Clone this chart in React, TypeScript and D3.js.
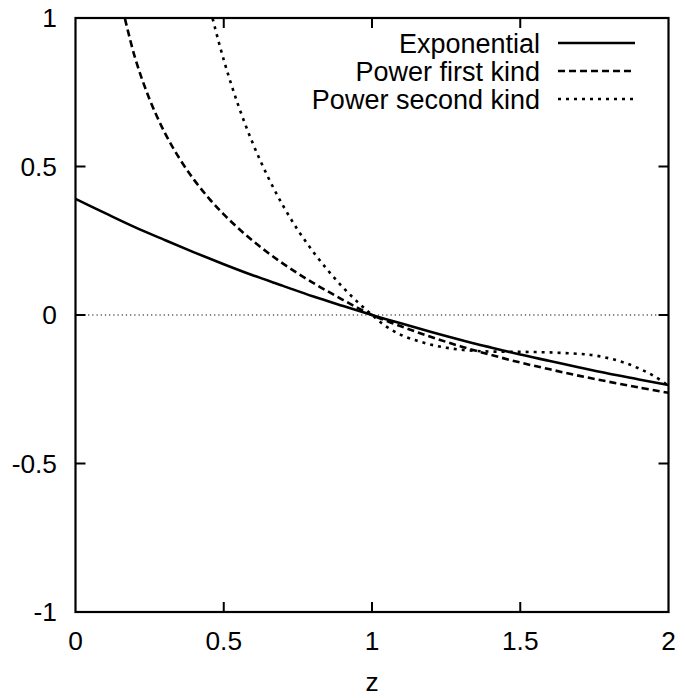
import React from 'react';
import * as d3 from 'd3';

// values
const expZ = [0, 0.1, 0.2, 0.3, 0.4, 0.5, 0.6, 0.7, 0.8, 0.9, 1.0, 1.1, 1.2, 1.3, 1.4, 1.5, 1.6, 1.7, 1.8, 1.9, 2.0];
const expValues = [0.391, 0.343, 0.296, 0.253, 0.211, 0.171, 0.133, 0.098, 0.063, 0.031, 0, -0.029, -0.057, -0.084, -0.109, -0.133, -0.155, -0.177, -0.198, -0.217, -0.236];

const powerFirstZ = [0.15, 0.2, 0.25, 0.3, 0.35, 0.4, 0.45, 0.5, 0.55, 0.6, 0.65, 0.7, 0.75, 0.8, 0.85, 0.9, 0.95, 1.0, 1.1, 1.2, 1.3, 1.4, 1.5, 1.6, 1.7, 1.8, 1.9, 2.0];
const powerFirstValues = [1.069, 0.869, 0.726, 0.616, 0.528, 0.455, 0.393, 0.339, 0.291, 0.248, 0.209, 0.173, 0.14, 0.109, 0.08, 0.052, 0.025, 0, -0.039, -0.074, -0.106, -0.134, -0.16, -0.183, -0.205, -0.225, -0.244, -0.262];

const powerSecondZ = [0.45, 0.46, 0.5, 0.55, 0.6, 0.65, 0.7, 0.75, 0.8, 0.85, 0.9, 0.95, 1.0, 1.05, 1.1, 1.15, 1.2, 1.25, 1.3, 1.35, 1.4, 1.5, 1.6, 1.7, 1.75, 1.8, 1.85, 1.9, 1.95, 2.0];
const powerSecondValues = [1.05, 1.008, 0.859, 0.703, 0.573, 0.463, 0.368, 0.286, 0.215, 0.152, 0.095, 0.045, 0, -0.04, -0.068, -0.086, -0.1, -0.11, -0.117, -0.121, -0.123, -0.124, -0.126, -0.131, -0.136, -0.146, -0.16, -0.18, -0.205, -0.238];

const seriesNames = ['Exponential', 'Power first kind', 'Power second kind'];
const xTicks = [0, 0.5, 1, 1.5, 2];
const yTicks = [-1, -0.5, 0, 0.5, 1];

export default class App extends React.Component {
  ref = React.createRef<SVGSVGElement>();

  sizing = {
    width: 685,
    height: 698,
    left: 75.5,
    right: 668.5,
    top: 18,
    bottom: 612,
  };

  textStyle = {
    font: '"Liberation Sans", Arial, sans-serif',
    tickSize: '26.3px',
    legendSize: '27px',
  };

  setupDom(): void {
    const s = this.sizing;
    const svg = d3.select(this.ref.current);
    svg.selectAll('*').remove();

    const xScale = d3.scaleLinear().domain([0, 2]).range([s.left, s.right]);
    const yScale = d3.scaleLinear().domain([-1, 1]).range([s.bottom, s.top]);

    svg.append('defs').append('clipPath').attr('id', 'plot-clip')
      .append('rect')
      .attr('x', s.left).attr('y', s.top)
      .attr('width', s.right - s.left).attr('height', s.bottom - s.top);

    // zero line
    svg.append('line')
      .attr('x1', xScale(0)).attr('x2', xScale(2))
      .attr('y1', yScale(0)).attr('y2', yScale(0))
      .attr('stroke', '#000').attr('stroke-width', 1)
      .attr('stroke-dasharray', '1.2,3');

    const line = d3.line<[number, number]>()
      .x(d => xScale(d[0]))
      .y(d => yScale(d[1]))
      .curve(d3.curveCatmullRom);

    const series = [
      {z: expZ, v: expValues, dash: null},
      {z: powerFirstZ, v: powerFirstValues, dash: '7,4'},
      {z: powerSecondZ, v: powerSecondValues, dash: '3,5'},
    ];

    const curves = svg.append('g').attr('clip-path', 'url(#plot-clip)');
    series.forEach(sr => {
      curves.append('path')
        .datum(sr.z.map((z, i) => [z, sr.v[i]] as [number, number]))
        .attr('fill', 'none')
        .attr('stroke', '#000')
        .attr('stroke-width', 2.6)
        .attr('stroke-dasharray', sr.dash)
        .attr('d', line as any);
    });

    // ticks, inward, mirrored on all sides
    const tickLen = 10;
    const ticks = svg.append('g').attr('stroke', '#000').attr('stroke-width', 2);
    xTicks.slice(1, -1).forEach(t => {
      ticks.append('line').attr('x1', xScale(t)).attr('x2', xScale(t)).attr('y1', s.bottom).attr('y2', s.bottom - tickLen);
      ticks.append('line').attr('x1', xScale(t)).attr('x2', xScale(t)).attr('y1', s.top).attr('y2', s.top + tickLen);
    });
    yTicks.slice(1, -1).forEach(t => {
      ticks.append('line').attr('y1', yScale(t)).attr('y2', yScale(t)).attr('x1', s.left).attr('x2', s.left + tickLen);
      ticks.append('line').attr('y1', yScale(t)).attr('y2', yScale(t)).attr('x1', s.right).attr('x2', s.right - tickLen);
    });

    // frame
    svg.append('rect')
      .attr('x', s.left).attr('y', s.top)
      .attr('width', s.right - s.left).attr('height', s.bottom - s.top)
      .attr('fill', 'none').attr('stroke', '#000').attr('stroke-width', 2.2);

    const labels = svg.append('g')
      .attr('font-family', this.textStyle.font)
      .attr('font-size', this.textStyle.tickSize)
      .attr('fill', '#000');

    xTicks.forEach(t => {
      labels.append('text')
        .attr('x', xScale(t)).attr('y', 650)
        .attr('text-anchor', 'middle')
        .text(d3.format('')(t));
    });
    yTicks.forEach(t => {
      labels.append('text')
        .attr('x', 57).attr('y', yScale(t) + 9.3)
        .attr('text-anchor', 'end')
        .text(d3.format('')(t).replace('−', '-'));
    });
    labels.append('text')
      .attr('x', xScale(1)).attr('y', 691)
      .attr('text-anchor', 'middle')
      .text('z');

    // legend
    const legend = svg.append('g');
    series.forEach((sr, i) => {
      const y = 43 + i * 28;
      legend.append('text')
        .attr('x', 540).attr('y', y + 9.5)
        .attr('text-anchor', 'end')
        .attr('font-family', this.textStyle.font)
        .attr('font-size', this.textStyle.legendSize)
        .text(seriesNames[i]);
      legend.append('line')
        .attr('x1', 558).attr('x2', 635)
        .attr('y1', y).attr('y2', y)
        .attr('stroke', '#000').attr('stroke-width', 2.6)
        .attr('stroke-dasharray', sr.dash);
    });
  }

  componentDidMount(): void {
    this.setupDom();
  }

  render(): React.ReactNode {
    const {width, height} = this.sizing;
    return (
      <svg
        ref={this.ref}
        width={width}
        height={height}
        style={{position: 'absolute', left: 0, top: 0, background: '#fff'}}
      />
    );
  }
}
